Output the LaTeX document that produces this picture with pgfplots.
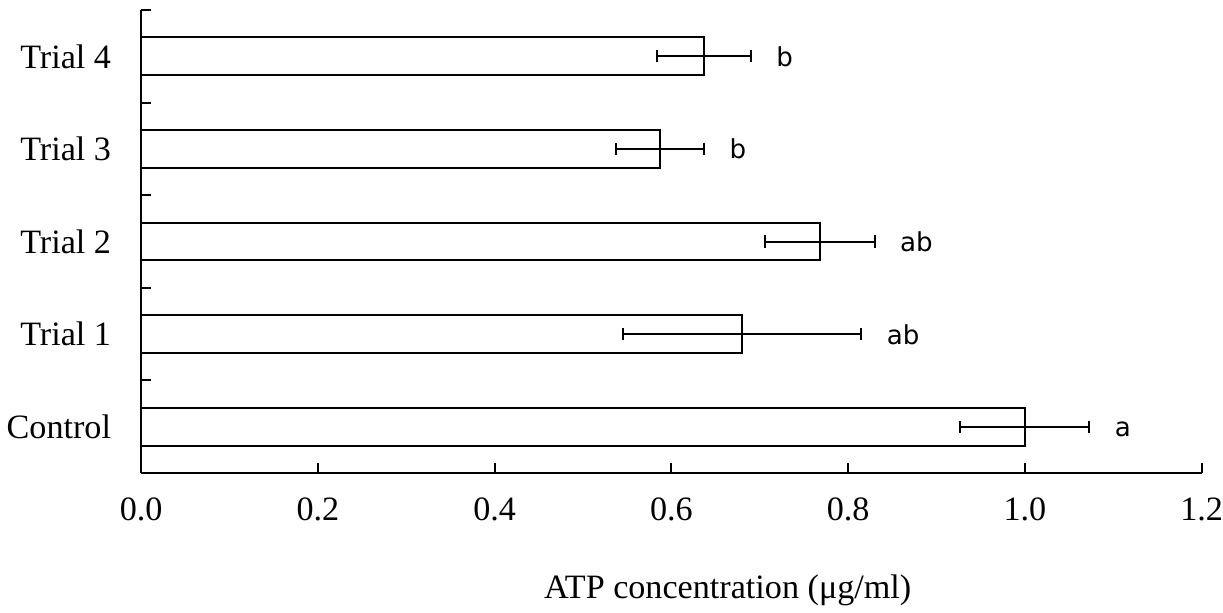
\documentclass[border=0pt]{standalone}
\usepackage{fontspec}
\setmainfont{Liberation Serif}
\newfontfamily\letterfont{DejaVu Sans}
\usepackage{pgfplots}
\usepackage{pgfplotstable}
\pgfplotsset{compat=1.18}

% y: 0 = Control ... 4 = Trial 4
\pgfplotstableread{
y x err lab
0 1.000 0.073 a
1 0.680 0.135 ab
2 0.768 0.062 ab
3 0.587 0.050 b
4 0.637 0.053 b
}\atpdata

\begin{document}
\begin{tikzpicture}
\begin{axis}[
  scale only axis,
  width=528pt,
  height=230.5pt,
  xmin=0, xmax=1.2,
  ymin=-0.5, ymax=4.5,
  axis x line*=bottom,
  axis y line*=left,
  axis line style={line width=1pt, -},
  tick align=inside,
  tick style={black, line width=1pt},
  major tick length=5pt,
  xtick={0,0.2,...,1.2},
  xticklabel style={font=\fontsize{17}{20}\selectfont, inner sep=0pt,
    yshift=-12pt,
    /pgf/number format/.cd, fixed, fixed zerofill, precision=1,
    assume math mode=true},
  ytick={-0.5,0.5,...,4.5},
  yticklabels={},
  extra y ticks={0,1,2,3,4},
  extra y tick labels={Control,Trial 1,Trial 2,Trial 3,Trial 4},
  extra y tick style={major tick length=0pt,
    yticklabel style={font=\fontsize{17}{20}\selectfont, xshift=-11.5pt}},
  xlabel={ATP concentration (μg/ml)},
  xlabel style={font=\fontsize{17}{20}\selectfont,
    at={(axis description cs:0.553,0)}, anchor=north, yshift=-47pt},
  clip=false,
]
\addplot[
  xbar,
  bar width=0.41,
  fill=white,
  draw=black,
  line width=1pt,
  mark=none,
  error bars/.cd,
    x dir=both, x explicit,
    error bar style={line width=1pt, black},
    error mark options={rotate=90, mark size=3pt, line width=1pt, black},
] table [x=x, y=y, x error=err] {\atpdata};
\addplot[
  draw=none, mark=none,
  nodes near coords,
  point meta=explicit symbolic,
  nodes near coords style={anchor=base west, inner sep=0pt,
    xshift=12.5pt, yshift=-5pt, font=\letterfont\fontsize{13}{15}\selectfont},
] table [x expr=\thisrow{x}+\thisrow{err}, y=y, meta=lab] {\atpdata};
\end{axis}
\path ([yshift=5pt]current axis.north);
\path ([xshift=-1.5pt]current axis.west);
\end{tikzpicture}
\end{document}
